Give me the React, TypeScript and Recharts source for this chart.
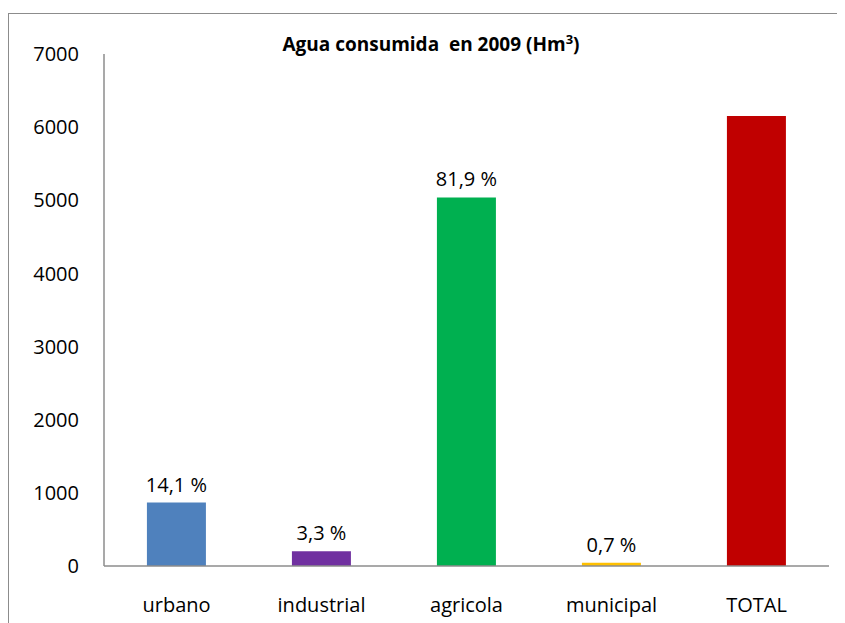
import { BarChart, Bar, XAxis, YAxis, Cell, LabelList } from 'recharts';

const categories = ['urbano', 'industrial', 'agricola', 'municipal', 'TOTAL'];
const volumes = [867, 203, 5039, 43, 6152];
const barColors = ['#4F81BD', '#7030A0', '#00B050', '#FFC000', '#C00000'];
const yTicks = [0, 1000, 2000, 3000, 4000, 5000, 6000, 7000];

const total = volumes[volumes.length - 1];
const shareLabel = (v: number) => `${(v / total * 100).toFixed(1).replace('.', ',')} %`;

const rows = categories.map((name, i) => ({
  name,
  value: volumes[i],
  share: i < categories.length - 1 ? shareLabel(volumes[i]) : '',
}));

const FONT = '"Open Sans", "Noto Sans", sans-serif';

export default function App() {
  return (
    <div style={{ position: 'relative', width: 837, height: 615, fontFamily: FONT, overflow: 'hidden' }}>
      <div style={{ position: 'absolute', left: 0, top: 5, right: -4, bottom: -4, borderTop: '1.5px solid #8c8c8c', borderLeft: '1.5px solid #8c8c8c' }} />
      <div style={{ position: 'absolute', left: 0, top: 22, width: 846, textAlign: 'center', fontWeight: 700, fontSize: 19, color: '#000' }}>
        Agua consumida&nbsp; en 2009 (Hm<sup style={{ fontSize: 13 }}>3</sup>)
      </div>
      <BarChart width={837} height={615} data={rows} margin={{ top: 46, right: 16, bottom: 0, left: 0 }} barCategoryGap="29.6%" style={{ position: 'absolute', left: 0, top: 0 }}>
        <YAxis domain={[0, 7000]} ticks={yTicks} width={96} tickLine={false} tickSize={0} tickMargin={25} axisLine={{ stroke: '#8c8c8c', strokeWidth: 1.5 }} tick={{ fill: '#000', fontSize: 20, fontFamily: FONT }} />
        <XAxis dataKey="name" height={57} tickLine={false} tickSize={0} tickMargin={32} axisLine={{ stroke: '#8c8c8c', strokeWidth: 1.5 }} tick={{ fill: '#000', fontSize: 20, fontFamily: FONT }} />
        <Bar dataKey="value" isAnimationActive={false}>
          {rows.map((r, i) => (
            <Cell key={r.name} fill={barColors[i]} />
          ))}
          <LabelList dataKey="share" position="top" offset={11} fill="#000" fontSize={20} fontFamily={FONT} />
        </Bar>
      </BarChart>
    </div>
  );
}
